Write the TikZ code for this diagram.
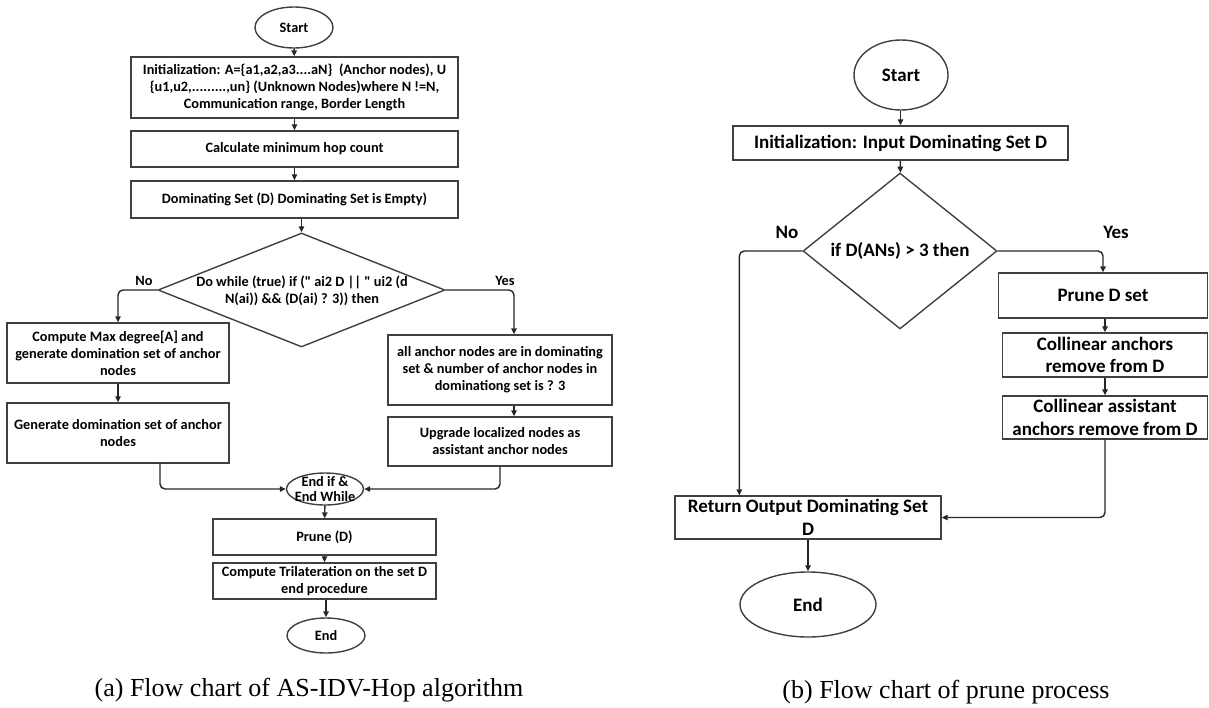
\documentclass[tikz,border=0pt]{standalone}
\usepackage{fontspec}
\setmainfont{Carlito}
\newfontfamily\capfont{Liberation Serif}
\usetikzlibrary{shapes.geometric,arrows.meta}
\newcommand\chartafont{\fontsize{14.3}{17}\selectfont\bfseries}
\newcommand\chartbfont{\fontsize{19}{22.5}\selectfont\bfseries}

\tikzset{
  boxa/.style={draw=black!75, line width=1.4pt, inner sep=0pt, align=center, font=\chartafont},
  boxb/.style={draw=black!75, line width=1.4pt, inner sep=0pt, align=center, font=\chartbfont},
  terma/.style={boxa, ellipse},
  termb/.style={boxb, ellipse},
  decide/.style={draw=black!75, line width=1.4pt, diamond, inner sep=0pt, align=center},
  lbl/.style={font=\chartafont, inner sep=0pt},
  arr/.style={-{Triangle[length=6pt,width=5.5pt]}, line width=1.4pt, black!85},
  elbow/.style={arr, rounded corners=5pt}
}

\begin{document}
\begin{tikzpicture}[x=1pt,y=-1pt]
\useasboundingbox (0,0) rectangle (1209,707);

% (a) AS-IDV-Hop
\node[terma, minimum width=78pt, minimum height=41pt] (aStart) at (294,27.5) {Start};
\node[boxa, minimum width=327pt, minimum height=61pt] (aInit) at (294.5,87.5)
  {Initialization: A=\{a1,a2,a3....aN\}\ \ (Anchor nodes), U\\
   \{u1,u2,.........,un\} (Unknown Nodes)where N\ !=N,\\
   Communication range, Border Length};
\node[boxa, minimum width=327pt, minimum height=36pt] (aHop) at (294.5,149) {Calculate minimum hop count};
\node[boxa, minimum width=327pt, minimum height=37pt] (aDom) at (294.5,199.5) {Dominating Set (D) Dominating Set is Empty)};
\node[decide, minimum width=287pt, minimum height=114pt] (aLoop) at (301.5,290) {};
\node[lbl, align=center] (aLoopTxt) at (302,291)
  {Do while (true) if (\textquotedbl\ ai2 D || \textquotedbl\ ui2 (d\\N(ai)) \&\& (D(ai) ? 3)) then};
\node[lbl] (aNo) at (144,281) {No};
\node[lbl] (aYes) at (505,281) {Yes};
\node[boxa, minimum width=222pt, minimum height=60pt] (aMax) at (118,353)
  {Compute Max degree[A] and\\generate domination set of anchor\\nodes};
\node[boxa, minimum width=222pt, minimum height=60pt] (aGen) at (118,433)
  {Generate domination set of anchor\\nodes};
\node[boxa, minimum width=224pt, minimum height=70pt] (aAll) at (500,370)
  {all anchor nodes are in dominating\\set \& number of anchor nodes in\\dominationg set is ? 3};
\node[boxa, minimum width=224pt, minimum height=49pt] (aUp) at (500,441.5)
  {Upgrade localized nodes as\\assistant anchor nodes};
\node[terma, minimum width=77pt, minimum height=32pt] (aJoin) at (325,489) {};
\node[lbl, align=center, font=\fontsize{14.3}{15}\selectfont\bfseries] (aJoinTxt) at (325,489) {End if \&\\End While};
\node[boxa, minimum width=223pt, minimum height=36pt] (aPrune) at (324.5,537) {Prune (D)};
\node[boxa, minimum width=223pt, minimum height=36pt] (aTri) at (324.5,581)
  {Compute Trilateration on the set D\\end procedure};
\node[terma, minimum width=78pt, minimum height=35pt] (aEnd) at (326,635.5) {End};

\draw[arr] (aStart) -- (aInit);
\draw[arr] (aInit) -- (aHop);
\draw[arr] (aHop) -- (aDom);
\draw[arr] (aDom.south -| aLoop.north) -- (aLoop.north);
\draw[elbow] (aLoop.west) -| (aMax.north);
\draw[elbow] (aLoop.east) -| ([xshift=14pt]aAll.north);
\draw[arr] (aMax) -- (aGen);
\draw[arr] ([xshift=14pt]aAll.south) -- ([xshift=14pt]aUp.north);
\draw[elbow] ([xshift=42pt]aGen.south) |- (aJoin.west);
\draw[elbow] (aUp.south) |- (aJoin.east);
\draw[arr] (aJoin) -- (aPrune);
\draw[arr] (aPrune) -- (aTri);
\draw[arr] (aTri.south -| aEnd.north) -- (aEnd.north);

% (b) prune process
\node[termb, minimum width=94pt, minimum height=70pt] (bStart) at (901,75) {Start};
\node[boxb, minimum width=335pt, minimum height=34pt] (bInit) at (900.5,143) {Initialization: Input Dominating Set D};
\node[decide, minimum width=194pt, minimum height=106pt, font=\chartbfont] (bIf) at (900,251) {if D(ANs) > 3 then};
\node[lbl, font=\chartbfont] (bNo) at (787,232) {No};
\node[lbl, font=\chartbfont] (bYes) at (1116,232) {Yes};
\node[boxb, minimum width=209pt, minimum height=45pt] (bPrune) at (1103,295.5) {Prune D set};
\node[boxb, minimum width=205pt, minimum height=44pt] (bColl) at (1105,355) {Collinear anchors\\remove from D};
\node[boxb, minimum width=205pt, minimum height=43pt] (bAssist) at (1105,417.5) {Collinear assistant\\anchors remove from D};
\node[boxb, minimum width=266pt, minimum height=43pt] (bRet) at (808,517.5) {Return Output Dominating Set\\D};
\node[termb, minimum width=136pt, minimum height=65pt] (bEnd) at (808,604.5) {End};

\draw[arr] (bStart.south -| bInit.north) -- (bInit.north);
\draw[arr] (bInit) -- (bIf);
\draw[elbow] (bIf.east) -| (bPrune.north);
\draw[arr] (bPrune.south -| bColl.north) -- (bColl.north);
\draw[arr] (bColl) -- (bAssist);
\draw[elbow] (bAssist.south) |- (bRet.east);
\draw[elbow] (bIf.west) -| ([xshift=65pt]bRet.north west);
\draw[arr] (bRet) -- (bEnd);

% captions
\node[font=\capfont\fontsize{26}{30}\selectfont, inner sep=0pt] (capA) at (309,690) {(a) Flow chart of AS-IDV-Hop algorithm};
\node[font=\capfont\fontsize{26}{30}\selectfont, inner sep=0pt] (capB) at (946,692) {(b) Flow chart of prune process};
\end{tikzpicture}
\end{document}
